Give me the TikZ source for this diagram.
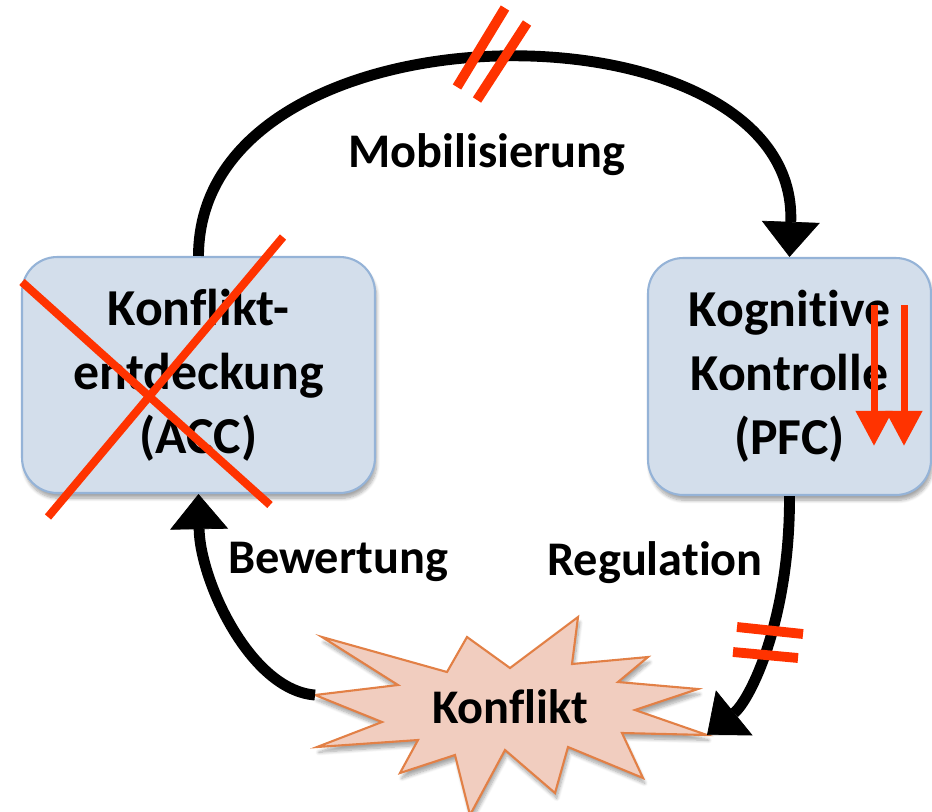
\documentclass[tikz,border=0pt]{standalone}
\usepackage{fontspec}
\setmainfont{Carlito}[Ligatures=NoCommon]
\usepackage{xcolor}
\usetikzlibrary{arrows.meta,shadows.blur}

\definecolor{boxfill}{RGB}{211,222,235}
\definecolor{boxline}{RGB}{149,179,215}
\definecolor{starfill}{RGB}{241,205,191}
\definecolor{starline}{RGB}{226,128,70}
\definecolor{strikered}{RGB}{255,51,0}

\begin{document}
\begin{tikzpicture}[
    x=0.02cm, y=-0.02cm,
    region/.style={draw=boxline, line width=1.2pt, fill=boxfill,
        rounded corners=20pt, align=center,
        font=\fontsize{29.5}{36.5}\selectfont\bfseries,
        blur shadow={shadow xshift=1pt, shadow yshift=-3pt,
            shadow opacity=35, shadow blur steps=8}},
    flow/.style={-{Triangle[length=20pt,width=33pt,line width=0.4pt,fill=black]},
        line width=6.2pt},
    flowlabel/.style={font=\fontsize{27.5}{30}\selectfont\bfseries, anchor=base},
    strike/.style={draw=strikered, line width=4.6pt},
    cut/.style={draw=strikered, line width=5.6pt},
    drop/.style={strikered, line width=4pt, -{Triangle[length=20pt,width=20pt]}}
]

\useasboundingbox (0,0) rectangle (932,811);

% -------------------------------------------------
% Regions
% -------------------------------------------------

\node[region, minimum width=7.06cm, minimum height=4.72cm]
  (acc) at (198.5,375)
  {Konflikt-\\entdeckung\\(ACC)};

\node[region, minimum width=5.66cm, minimum height=4.74cm]
  (pfc) at (789.5,376.5)
  {Kognitive\\Kontrolle\\(PFC)};

% -------------------------------------------------
% Conflict burst
% -------------------------------------------------

\draw[fill=starfill, draw=starline, line width=1.2pt,
      blur shadow={shadow xshift=1pt, shadow yshift=-3pt,
          shadow opacity=35, shadow blur steps=8}]
  (315,695) -- (398,685) -- (322,637) -- (447,672) -- (467,637)
  -- (510,668) -- (578,617) -- (572,664) -- (648,657) -- (618,682)
  -- (698,689) -- (635,710) -- (707,735) -- (622,733) -- (643,778)
  -- (568,747) -- (555,793) -- (505,750) -- (470,815) -- (455,755)
  -- (400,773) -- (418,740) -- (317,747) -- (382,722) -- cycle;

\coordinate (kL) at (315,695);
\coordinate (kR) at (707,735);

\node[flowlabel] (konflikt) at (510,723) {Konflikt};

% -------------------------------------------------
% Loop
% -------------------------------------------------

\draw[flow]
  (acc.north) .. controls (199,-5) and (799,-5) .. (pfc.north);

\draw[flow]
  (pfc.south) .. controls (790,620) and (750,700) .. (kR);

\draw[flow]
  (kL) .. controls (250,690) and (200,580) .. (acc.south);

\node[flowlabel] (mob) at (487,167) {Mobilisierung};
\node[flowlabel] (bew) at (338,573) {Bewertung};
\node[flowlabel] (reg) at (655,575) {Regulation};

% -------------------------------------------------
% Red marks
% -------------------------------------------------

% ACC knocked out
\draw[strike] (22,282) -- (270,505);
\draw[strike] (283,237) -- (48,517);

% interrupted links
\draw[cut] (457,87) -- (505,8);
\draw[cut] (477,100) -- (527,23);
\draw[cut] (737,627) -- (803,634);
\draw[cut] (733,652) -- (798,658);

% reduced control
\draw[drop] (874,305) -- (874,446);
\draw[drop] (904,305) -- (904,446);

\end{tikzpicture}
\end{document}
